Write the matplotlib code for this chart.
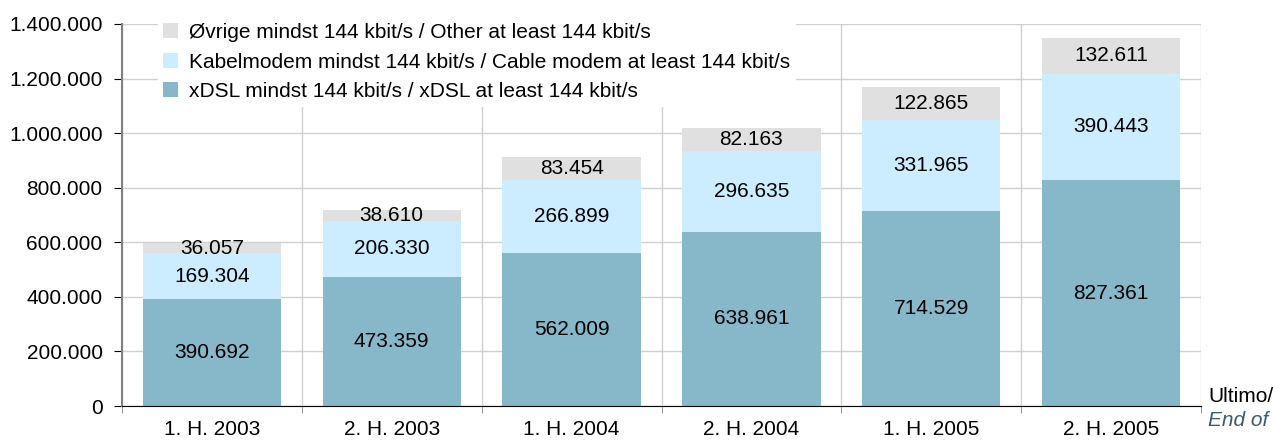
import matplotlib.pyplot as plt
import numpy as np

plt.rcParams['font.family'] = ['Liberation Sans', 'DejaVu Sans']

periods = ["1. H. 2003", "2. H. 2003", "1. H. 2004", "2. H. 2004", "1. H. 2005", "2. H. 2005"]
xdsl = [390692, 473359, 562009, 638961, 714529, 827361]
cable = [169304, 206330, 266899, 296635, 331965, 390443]
other = [36057, 38610, 83454, 82163, 122865, 132611]

names = ["xDSL mindst 144 kbit/s / xDSL at least 144 kbit/s",
         "Kabelmodem mindst 144 kbit/s / Cable modem at least 144 kbit/s",
         "Øvrige mindst 144 kbit/s / Other at least 144 kbit/s"]
colors = ["#86B8C9", "#CCECFF", "#E0E0E0"]
fs = 15


def fmt(v):
    return f"{v:,}".replace(",", ".")


fig = plt.figure(figsize=(12.73, 4.46), dpi=100)
ax = fig.add_axes([122 / 1273, 40 / 446, 1079 / 1273, 382 / 446])

x = np.arange(len(periods))
bottom = np.zeros(len(periods))
bars = []
for vals, name, col in zip([xdsl, cable, other], names, colors):
    b = ax.bar(x, vals, 0.77, bottom=bottom, color=col, label=name, zorder=2)
    bars.append(b)
    for xi, v, b0 in zip(x, vals, bottom):
        ax.text(xi, b0 + v / 2, fmt(v), ha="center", va="center", fontsize=fs, zorder=3)
    bottom = bottom + np.array(vals)

ax.set_xlim(-0.5, len(periods) - 0.5)
ax.set_ylim(0, 1400000)
ax.set_yticks(np.arange(0, 1400001, 200000))
ax.set_yticklabels([fmt(v) for v in range(0, 1400001, 200000)], fontsize=fs)
ax.set_xticks(x)
ax.set_xticklabels(periods, fontsize=fs)
ax.tick_params(axis="x", length=0, pad=10)
ax.set_xticks(np.arange(-0.5, len(periods), 1), minor=True)
ax.tick_params(axis="x", which="minor", length=5, color="#808080")
ax.tick_params(axis="y", length=6, color="#000000", pad=8)

ax.grid(axis="y", color="#D0D0D0", linewidth=1, zorder=0)
ax.grid(axis="x", which="minor", color="#D0D0D0", linewidth=1, zorder=0)
ax.grid(axis="x", which="major", visible=False)

for s in ["top", "right"]:
    ax.spines[s].set_visible(False)
ax.spines["left"].set_color("#808080")
ax.spines["left"].set_linewidth(1.5)
ax.spines["bottom"].set_color("#000000")

handles = bars[::-1]
leg = ax.legend(handles, names[::-1], loc="upper left", bbox_to_anchor=(0.033, 1.016),
                frameon=True, fontsize=fs, handlelength=0.75, handleheight=0.75,
                handletextpad=0.5, labelspacing=0.5, borderpad=0.25,
                borderaxespad=0)
leg.get_frame().set_facecolor("white")
leg.get_frame().set_edgecolor("white")
leg.get_frame().set_alpha(1)
leg.get_frame().set_boxstyle("square", pad=0)
leg.set_zorder(5)

fig.text(1208 / 1273, 1 - 397 / 446, "Ultimo/", fontsize=fs, va="center", ha="left")
fig.text(1208 / 1273, 1 - 421 / 446, "End of", fontsize=fs, va="center", ha="left",
         style="italic", color="#3A5A70")

fig.savefig("out.png", dpi=100)
